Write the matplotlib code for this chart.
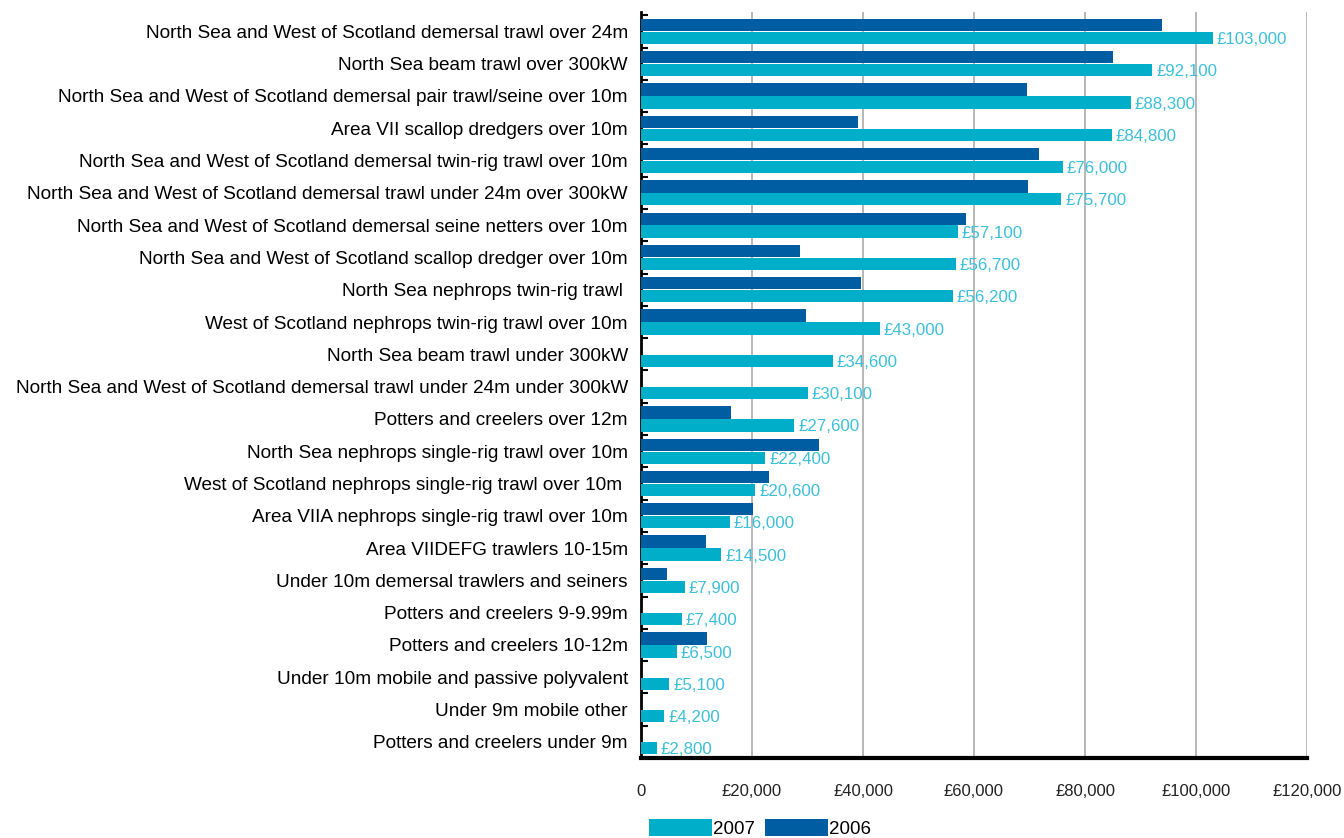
import matplotlib.pyplot as plt
import numpy as np

plt.rcParams['font.family'] = ['Liberation Sans', 'DejaVu Sans']

# fleet segments, top to bottom
segments = [
    "North Sea and West of Scotland demersal trawl over 24m",
    "North Sea beam trawl over 300kW",
    "North Sea and West of Scotland demersal pair trawl/seine over 10m",
    "Area VII scallop dredgers over 10m",
    "North Sea and West of Scotland demersal twin-rig trawl over 10m",
    "North Sea and West of Scotland demersal trawl under 24m over 300kW",
    "North Sea and West of Scotland demersal seine netters over 10m",
    "North Sea and West of Scotland scallop dredger over 10m",
    "North Sea nephrops twin-rig trawl ",
    "West of Scotland nephrops twin-rig trawl over 10m",
    "North Sea beam trawl under 300kW",
    "North Sea and West of Scotland demersal trawl under 24m under 300kW",
    "Potters and creelers over 12m",
    "North Sea nephrops single-rig trawl over 10m",
    "West of Scotland nephrops single-rig trawl over 10m ",
    "Area VIIA nephrops single-rig trawl over 10m",
    "Area VIIDEFG trawlers 10-15m",
    "Under 10m demersal trawlers and seiners",
    "Potters and creelers 9-9.99m",
    "Potters and creelers 10-12m",
    "Under 10m mobile and passive polyvalent",
    "Under 9m mobile other",
    "Potters and creelers under 9m",
]
vals_2007 = [103000, 92100, 88300, 84800, 76000, 75700, 57100, 56700, 56200,
             43000, 34600, 30100, 27600, 22400, 20600, 16000, 14500, 7900,
             7400, 6500, 5100, 4200, 2800]
vals_2006 = [93800, 85000, 69500, 39100, 71800, 69700, 58500, 28600, 39600,
             29800, 0, 0, 16200, 32000, 23000, 20200, 11800, 4600,
             0, 11900, 0, 0, 0]
x_ticks = [0, 20000, 40000, 60000, 80000, 100000, 120000]
x_ticklabels = ["0", "£20,000", "£40,000", "£60,000", "£80,000", "£100,000", "£120,000"]

c07 = '#00aec9'
c06 = '#005da2'
lab_col = '#3cbfd9'

fig = plt.figure(figsize=(13.44, 8.38), dpi=100)
ax = fig.add_axes([641/1344, 1-758/838, 666/1344, 746/838])

y = np.arange(len(segments))
h = 0.38
ax.barh(y - h/2 - 0.01, vals_2006, height=h, color=c06, label='2006', zorder=3)
ax.barh(y + h/2 + 0.01, vals_2007, height=h, color=c07, label='2007', zorder=3)

for yi, v in zip(y, vals_2007):
    ax.text(v + 700, yi + h/2 + 0.06, "£{:,}".format(v), color=lab_col,
            fontsize=12.2, va='center', ha='left', zorder=4)

ax.set_ylim(len(segments) - 0.5, -0.6)
ax.set_xlim(0, 120000)
ax.set_yticks(y)
ax.set_yticklabels(segments, fontsize=13.7)
ax.tick_params(axis='y', length=0, pad=9.5)
ax.set_yticks(np.arange(len(segments)) - 0.5, minor=True)
ax.tick_params(axis='y', which='minor', direction='in', length=5, width=1.5)

ax.set_xticks(x_ticks)
ax.set_xticklabels(x_ticklabels, fontsize=12, color='#222222')
ax.tick_params(axis='x', length=0, pad=19)
ax.xaxis.grid(True, color='#aaaaaa', linewidth=1.2, zorder=0)

for s in ['top', 'right']:
    ax.spines[s].set_visible(False)
ax.spines['left'].set_linewidth(2)
ax.spines['bottom'].set_linewidth(3)

handles, labels = ax.get_legend_handles_labels()
fig.legend(handles[::-1], labels[::-1], loc='lower left', bbox_to_anchor=(641/1344, -0.009),
           ncol=2, frameon=False, fontsize=13.5, handlelength=3.4, handleheight=1.0,
           handletextpad=0.05, columnspacing=0.5, borderaxespad=0)

fig.savefig('out.png', dpi=100)
